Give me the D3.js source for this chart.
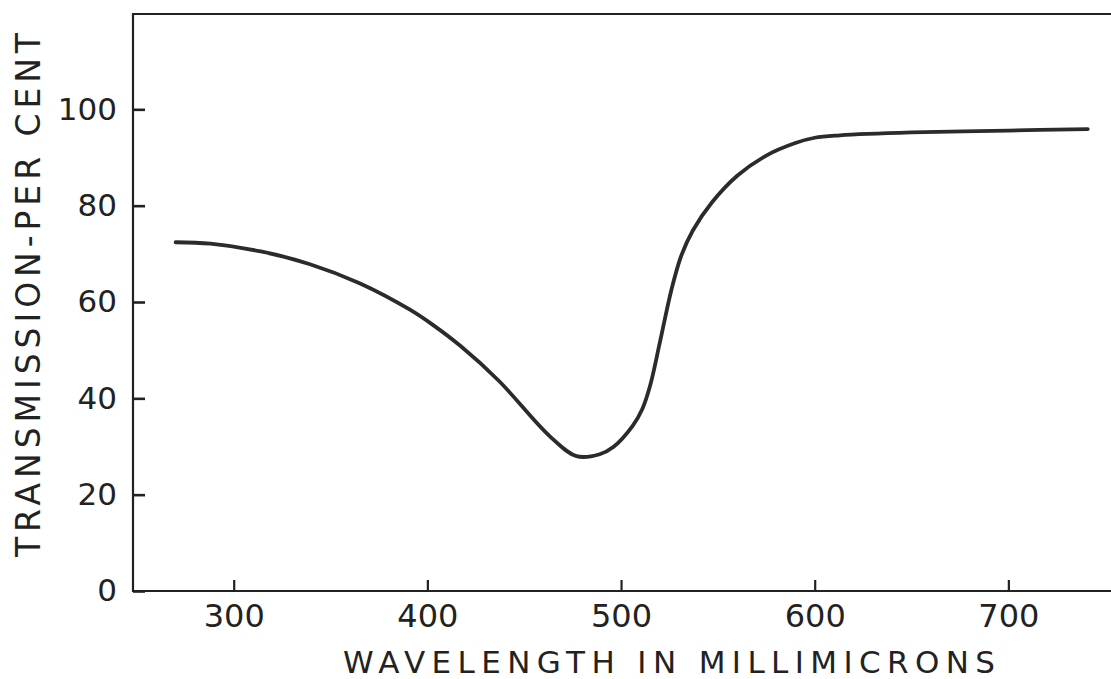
<!DOCTYPE html>
<html>
<head>
<meta charset="utf-8">
<script src="https://cdn.jsdelivr.net/npm/d3@7"></script>
<style>
    html, body { margin: 0; padding: 0; background: #fff; }
    #chart { width: 1111px; height: 679px; }
    text { font-family: "DejaVu Sans", sans-serif; fill: #222; }
</style>
</head>
<body>
<div id="chart"></div>
<script>
// ========== Data ==========
const wavelengths = [270, 288, 314, 339, 365, 391, 403, 417, 437, 463, 477, 489, 496, 506, 511, 515, 520, 526, 531, 537, 547, 560, 575, 590, 600, 613, 650, 700, 741];
const transmission = [72.4, 72.1, 70.5, 67.9, 63.9, 58.4, 55.2, 50.9, 43.6, 32.2, 28.0, 28.4, 29.9, 34.3, 37.8, 42.6, 51.5, 62.5, 69.5, 74.8, 80.7, 86.2, 90.4, 93.0, 94.1, 94.6, 95.2, 95.6, 95.9];
const xTicks = [300, 400, 500, 600, 700];
const yTicks = [0, 20, 40, 60, 80, 100];
const xTitle = "WAVELENGTH IN MILLIMICRONS";
const yTitle = "TRANSMISSION-PER CENT";

// ========== Chart ==========
const width = 1111, height = 679;
const plot = { left: 133, right: 1111, top: 14, bottom: 591 };

const svg = d3.select("#chart")
    .append("svg")
    .attr("width", width)
    .attr("height", height);

const x = d3.scaleLinear().domain([248, 753]).range([plot.left, plot.right]);
const y = d3.scaleLinear().domain([0, 120]).range([plot.bottom, plot.top - 1]);

// Y axis, ticks point into the plot
const yAxis = svg.append("g")
    .attr("transform", `translate(${plot.left},0)`)
    .call(d3.axisLeft(y).tickValues(yTicks).tickSizeOuter(0).tickPadding(16));
yAxis.select(".domain").remove();
yAxis.selectAll(".tick line")
    .attr("x1", 0).attr("x2", 12)
    .attr("stroke", "#222").attr("stroke-width", 2.6);
yAxis.selectAll(".tick text")
    .attr("x", -16)
    .attr("font-size", 31)
    .attr("font-family", "DejaVu Sans, sans-serif")
    .attr("fill", "#222");

// X axis, ticks point up
const xAxis = svg.append("g")
    .attr("transform", `translate(0,${plot.bottom})`)
    .call(d3.axisBottom(x).tickValues(xTicks).tickSizeOuter(0).tickPadding(13));
xAxis.select(".domain").remove();
xAxis.selectAll(".tick line")
    .attr("y1", 0).attr("y2", -11)
    .attr("stroke", "#222").attr("stroke-width", 2.2);
xAxis.selectAll(".tick text")
    .attr("y", 13)
    .attr("font-size", 32)
    .attr("font-family", "DejaVu Sans, sans-serif")
    .attr("fill", "#222");

// Frame: left, top, bottom
svg.append("path")
    .attr("d", `M${plot.right},${plot.top}H${plot.left}V${plot.bottom}H${plot.right}`)
    .attr("fill", "none")
    .attr("stroke", "#222")
    .attr("stroke-width", 2.2);

// Curve
const points = wavelengths.map((w, i) => [w, transmission[i]]);
svg.append("path")
    .datum(points)
    .attr("fill", "none")
    .attr("stroke", "#2b2b2b")
    .attr("stroke-width", 3.8)
    .attr("stroke-linecap", "round")
    .attr("d", d3.line()
        .x(d => x(d[0]))
        .y(d => y(d[1]))
        .curve(d3.curveCatmullRom.alpha(0.5)));

// Axis titles
svg.append("text")
    .attr("x", 343)
    .attr("y", 673)
    .attr("font-size", 31)
    .attr("textLength", 652)
    .attr("lengthAdjust", "spacing")
    .text(xTitle);

svg.append("text")
    .attr("transform", "translate(40,557) rotate(-90)")
    .attr("font-size", 33)
    .attr("textLength", 524)
    .attr("lengthAdjust", "spacing")
    .text(yTitle);
</script>
</body>
</html>
